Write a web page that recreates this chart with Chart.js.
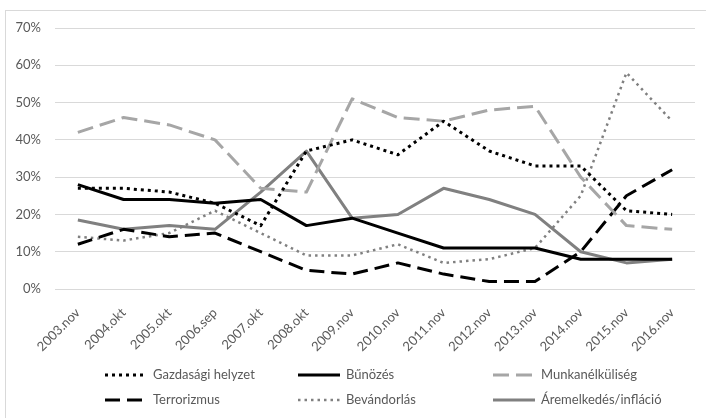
<!DOCTYPE html>
<html lang="hu">
<head>
  <meta charset="UTF-8" />
  <title>Problémák</title>
  <script src="https://cdn.jsdelivr.net/npm/chart.js"></script>
  <style>
    * {
      box-sizing: border-box;
    }
    html, body {
      margin: 0;
      padding: 0;
      background: #ffffff;
    }
    #wrap {
      width: 706px;
      height: 418px;
      position: relative;
    }
  </style>
</head>
<body>
  <div id="wrap">
    <canvas id="chart" width="706" height="418"></canvas>
  </div>

<script>
  const labels = ['2003.nov', '2004.okt', '2005.okt', '2006.sep', '2007.okt', '2008.okt', '2009.nov',
    '2010.nov', '2011.nov', '2012.nov', '2013.nov', '2014.nov', '2015.nov', '2016.nov'];

  const gazdasagi = [27, 27, 26, 23, 17, 37, 40, 36, 45, 37, 33, 33, 21, 20];
  const bunozes = [28, 24, 24, 23, 24, 17, 19, 15, 11, 11, 11, 8, 8, 8];
  const munkanelkuliseg = [42, 46, 44, 40, 27, 26, 51, 46, 45, 48, 49, 30, 17, 16];
  const terrorizmus = [12, 16, 14, 15, 10, 5, 4, 7, 4, 2, 2, 10, 25, 32];
  const bevandorlas = [14, 13, 15, 21, 15, 9, 9, 12, 7, 8, 11, 25, 58, 45];
  const inflacio = [18.5, 16, 17, 16, 26, 37, 19, 20, 27, 24, 20, 10, 7, 8];

  const yTicks = [0, 10, 20, 30, 40, 50, 60, 70];

  const textColor = '#595959';
  const gridColor = '#d9d9d9';
  const fontFamily = 'Lato, "Open Sans", sans-serif';

  function line(label, data, color, width, dash) {
    return {
      label: label,
      data: data,
      borderColor: color,
      backgroundColor: color,
      borderWidth: width,
      borderDash: dash,
      borderCapStyle: 'butt',
      borderJoinStyle: 'round',
      pointRadius: 0,
      pointHoverRadius: 0,
      tension: 0,
      fill: false
    };
  }

  const datasets = [
    line('Gazdasági helyzet', gazdasagi, '#000000', 3, [3, 4]),
    line('Bűnözés', bunozes, '#000000', 3, []),
    line('Munkanélküliség', munkanelkuliseg, '#a6a6a6', 3, [16, 7]),
    line('Terrorizmus', terrorizmus, '#000000', 3, [15, 7]),
    line('Bevándorlás', bevandorlas, '#808080', 2.5, [2.5, 4]),
    line('Áremelkedés/infláció', inflacio, '#808080', 3, [])
  ];

  // legend grid: 3 columns x 2 rows, drawn under the plot like Excel does
  const legendCols = [105, 298, 493];
  const legendRows = [375, 400];

  const frameAndLegend = {
    id: 'frameAndLegend',
    beforeDraw(chart) {
      const ctx = chart.ctx;
      ctx.save();
      ctx.strokeStyle = gridColor;
      ctx.lineWidth = 1;
      ctx.strokeRect(5.5, 10.5, 720, 420);
      ctx.restore();
    },
    afterDraw(chart) {
      const ctx = chart.ctx;
      ctx.save();
      ctx.font = '13px ' + fontFamily;
      ctx.textBaseline = 'middle';
      ctx.textAlign = 'left';
      chart.data.datasets.forEach((ds, i) => {
        const x = legendCols[i % 3];
        const y = legendRows[Math.floor(i / 3)];
        ctx.strokeStyle = ds.borderColor;
        ctx.lineWidth = ds.borderWidth;
        ctx.setLineDash(ds.borderDash);
        ctx.lineCap = 'butt';
        ctx.beginPath();
        ctx.moveTo(x, y);
        ctx.lineTo(x + 42, y);
        ctx.stroke();
        ctx.setLineDash([]);
        ctx.fillStyle = textColor;
        ctx.fillText(ds.label, x + 48, y);
      });
      ctx.restore();
    }
  };

  new Chart(document.getElementById('chart'), {
    type: 'line',
    data: {
      labels: labels,
      datasets: datasets
    },
    options: {
      responsive: false,
      animation: false,
      layout: {
        padding: { left: 0, right: 11, top: 28, bottom: 0 }
      },
      plugins: {
        legend: { display: false },
        tooltip: { enabled: false }
      },
      scales: {
        x: {
          offset: true,
          grid: { display: false },
          border: { display: false },
          ticks: {
            color: textColor,
            font: { family: fontFamily, size: 13 },
            minRotation: 45,
            maxRotation: 45,
            padding: 8,
            autoSkip: false
          },
          afterFit(scale) {
            scale.height = 129;
          }
        },
        y: {
          min: 0,
          max: 70,
          afterBuildTicks(scale) {
            scale.ticks = yTicks.map(v => ({ value: v }));
          },
          grid: {
            color: gridColor,
            lineWidth: 1,
            drawTicks: false
          },
          border: { display: false },
          ticks: {
            color: textColor,
            font: { family: fontFamily, size: 13 },
            padding: 14,
            callback: v => v + '%'
          },
          afterFit(scale) {
            scale.width = 55;
          }
        }
      }
    },
    plugins: [frameAndLegend]
  });
</script>
</body>
</html>
